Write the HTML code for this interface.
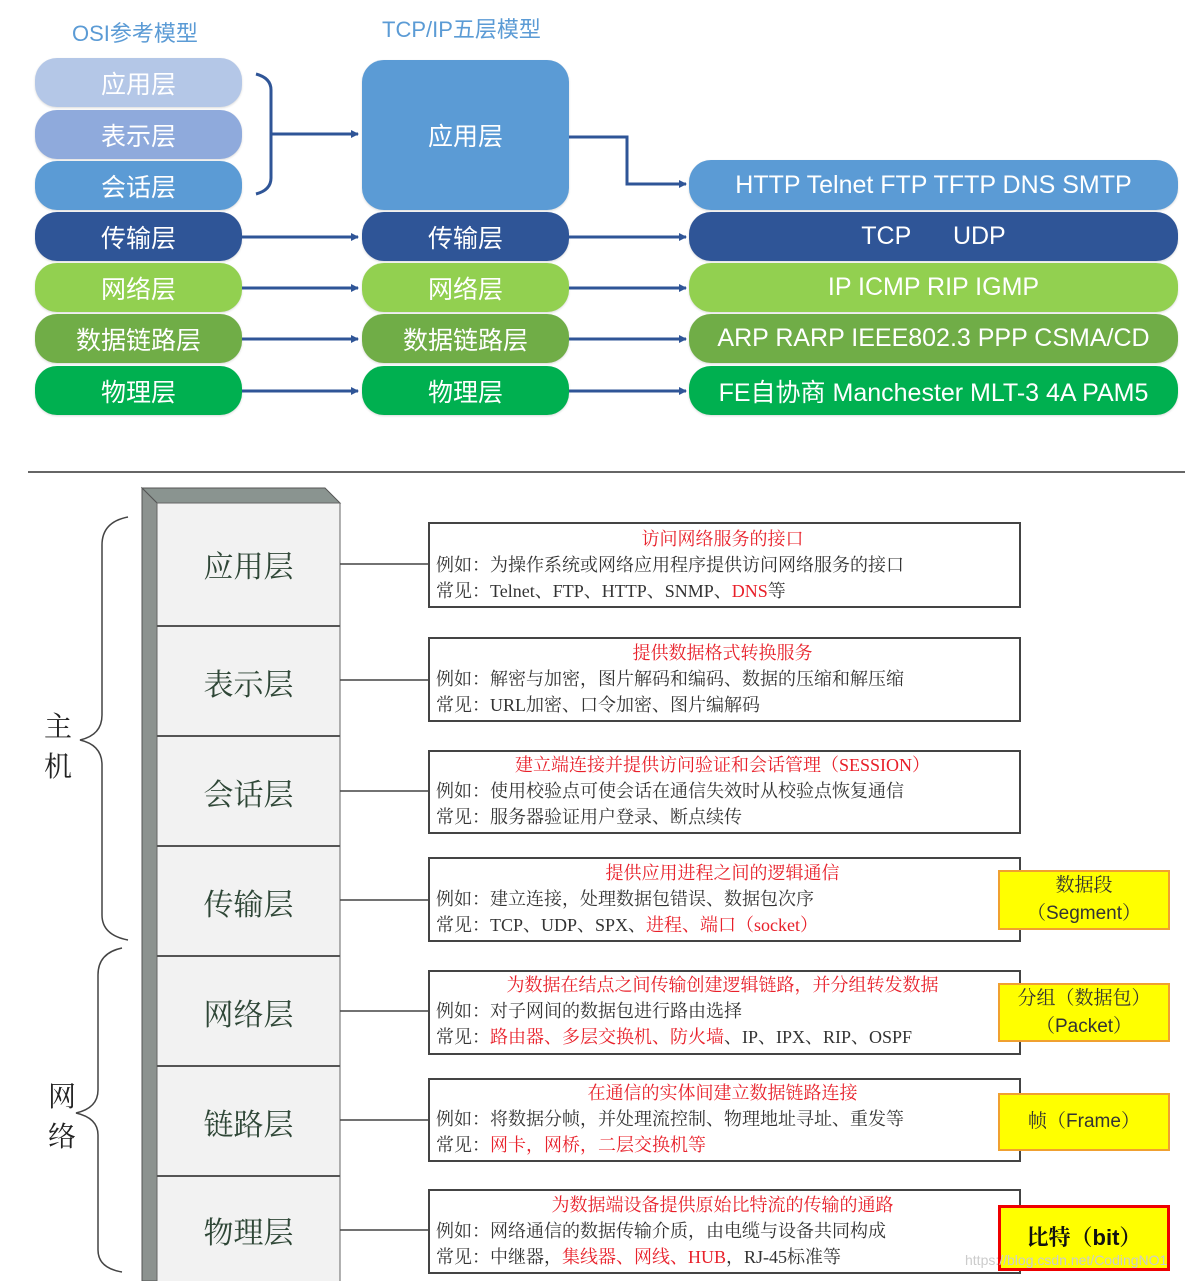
<!DOCTYPE html>
<html><head><meta charset="utf-8"><style>
body{margin:0;width:1201px;height:1281px;background:#fff;position:relative;overflow:hidden;font-family:"Liberation Sans","Noto Sans CJK SC",sans-serif}
.p{position:absolute;border-radius:22px;color:#fff;font-size:25px;display:flex;align-items:center;justify-content:center;box-shadow:0 1px 2px rgba(0,0,0,.15)}
.t{position:absolute;color:#5b9bd5;font-size:22px}
.lay{position:absolute;left:157px;width:183px;display:flex;align-items:center;justify-content:center;font-family:"Liberation Serif","Noto Serif CJK SC",serif;font-size:30px;color:#2e4636;border-top:2px solid #555}
.bx{position:absolute;left:428px;width:593px;border:2px solid #444;font-family:"Liberation Serif","Noto Serif CJK SC",serif;font-size:18px;color:#333;line-height:26px;box-sizing:border-box;padding-left:6px}
.bx .h{color:#e8202a;text-align:center;padding-right:10px}
.r{color:#e8202a}
.y{position:absolute;left:998px;width:172px;background:#ffff00;border:2px solid #f0a030;box-sizing:border-box;display:flex;flex-direction:column;align-items:center;justify-content:center;font-size:19px;color:#333;line-height:28px;font-family:"Liberation Sans","Noto Serif CJK SC",sans-serif}
</style></head><body>
<div class="t" style="left:72px;top:16px">OSI参考模型</div>
<div class="t" style="left:382px;top:12px">TCP/IP五层模型</div>

<div class="p" style="left:35px;top:58px;width:207px;height:49px;background:#b4c7e7">应用层</div>
<div class="p" style="left:35px;top:110px;width:207px;height:49px;background:#8faadc">表示层</div>
<div class="p" style="left:35px;top:161px;width:207px;height:49px;background:#5b9bd5">会话层</div>
<div class="p" style="left:35px;top:212px;width:207px;height:49px;background:#2f5597">传输层</div>
<div class="p" style="left:35px;top:263px;width:207px;height:49px;background:#92d050">网络层</div>
<div class="p" style="left:35px;top:314px;width:207px;height:49px;background:#70ad47">数据链路层</div>
<div class="p" style="left:35px;top:366px;width:207px;height:49px;background:#00b050">物理层</div>

<div class="p" style="left:362px;top:60px;width:207px;height:150px;background:#5b9bd5">应用层</div>
<div class="p" style="left:362px;top:212px;width:207px;height:49px;background:#2f5597">传输层</div>
<div class="p" style="left:362px;top:263px;width:207px;height:49px;background:#92d050">网络层</div>
<div class="p" style="left:362px;top:314px;width:207px;height:49px;background:#70ad47">数据链路层</div>
<div class="p" style="left:362px;top:366px;width:207px;height:49px;background:#00b050">物理层</div>

<div class="p" style="left:689px;top:160px;width:489px;height:50px;background:#5b9bd5">HTTP Telnet FTP TFTP DNS SMTP</div>
<div class="p" style="left:689px;top:212px;width:489px;height:49px;background:#2f5597">TCP&nbsp;&nbsp;&nbsp;&nbsp;&nbsp;&nbsp;UDP</div>
<div class="p" style="left:689px;top:263px;width:489px;height:49px;background:#92d050">IP ICMP RIP IGMP</div>
<div class="p" style="left:689px;top:314px;width:489px;height:49px;background:#70ad47">ARP RARP IEEE802.3 PPP CSMA/CD</div>
<div class="p" style="left:689px;top:366px;width:489px;height:49px;background:#00b050">FE自协商 Manchester MLT-3 4A PAM5</div>

<svg style="position:absolute;left:0;top:0" width="1201" height="1281">
<defs><marker id="a" markerWidth="8" markerHeight="8" refX="7" refY="4" orient="auto" markerUnits="userSpaceOnUse"><path d="M0,0L8,4L0,8z" fill="#2f5597"/></marker></defs>
<g stroke="#2f5597" stroke-width="3" fill="none">
<path d="M256,74 Q271,78 271,90 L271,178 Q271,190 256,194"/>
<path d="M271,134 L358,134" marker-end="url(#a)"/>
<path d="M569,137 L627,137 L627,184 L686,184" marker-end="url(#a)"/>
<path d="M242,237 L358,237" marker-end="url(#a)"/><path d="M569,237 L686,237" marker-end="url(#a)"/>
<path d="M242,288 L358,288" marker-end="url(#a)"/><path d="M569,288 L686,288" marker-end="url(#a)"/>
<path d="M242,339 L358,339" marker-end="url(#a)"/><path d="M569,339 L686,339" marker-end="url(#a)"/>
<path d="M242,391 L358,391" marker-end="url(#a)"/><path d="M569,391 L686,391" marker-end="url(#a)"/>
</g>
<line x1="28" y1="472" x2="1185" y2="472" stroke="#333" stroke-width="1.5"/>
<polygon points="142,488 325,488 340,503 157,503" fill="#8a9490" stroke="#555"/>
<polygon points="142,488 157,503 157,1281 142,1281" fill="#8c928f" stroke="#555"/>
<rect x="157" y="503" width="183" height="780" fill="#f2f2f2" stroke="#666"/>
<g stroke="#444" stroke-width="1.5" fill="none">
<path d="M128,517 Q102,522 102,545 L102,715 Q102,735 80,740 Q102,745 102,765 L102,915 Q102,935 128,940"/>
<path d="M122,948 Q98,953 98,975 L98,1090 Q98,1108 76,1113 Q98,1118 98,1135 L98,1250 Q98,1268 122,1272"/>
<path d="M340,564H428M340,680H428M340,791H428M340,900H428M340,1011H428M340,1120H428M340,1230H428"/>
</g>
</svg>
<div style="position:absolute;left:44px;top:708px;font-size:28px;line-height:40px;color:#222;font-family:'Liberation Serif','Noto Serif CJK SC',serif">主<br>机</div>
<div style="position:absolute;left:48px;top:1078px;font-size:28px;line-height:40px;color:#222;font-family:'Liberation Serif','Noto Serif CJK SC',serif">网<br>络</div>

<div class="lay" style="top:503px;height:122px;border-top:none">应用层</div>
<div class="lay" style="top:625px;height:110px">表示层</div>
<div class="lay" style="top:735px;height:110px">会话层</div>
<div class="lay" style="top:845px;height:110px">传输层</div>
<div class="lay" style="top:955px;height:110px">网络层</div>
<div class="lay" style="top:1065px;height:110px">链路层</div>
<div class="lay" style="top:1175px;height:106px">物理层</div>

<div class="bx" style="top:522px;height:86px;padding-top:2px"><div class="h">访问网络服务的接口</div>例如：为操作系统或网络应用程序提供访问网络服务的接口<br>常见：Telnet、FTP、HTTP、SNMP、<span class="r">DNS</span>等</div>
<div class="bx" style="top:637px;height:85px;padding-top:1px"><div class="h">提供数据格式转换服务</div>例如：解密与加密，图片解码和编码、数据的压缩和解压缩<br>常见：URL加密、口令加密、图片编解码</div>
<div class="bx" style="top:750px;height:84px;padding-top:0px"><div class="h">建立端连接并提供访问验证和会话管理（SESSION）</div>例如：使用校验点可使会话在通信失效时从校验点恢复通信<br>常见：服务器验证用户登录、断点续传</div>
<div class="bx" style="top:857px;height:85px;padding-top:1px"><div class="h">提供应用进程之间的逻辑通信</div>例如：建立连接，处理数据包错误、数据包次序<br>常见：TCP、UDP、SPX、<span class="r">进程、端口（socket）</span></div>
<div class="bx" style="top:970px;height:85px;padding-top:0px"><div class="h">为数据在结点之间传输创建逻辑链路，并分组转发数据</div>例如：对子网间的数据包进行路由选择<br>常见：<span class="r">路由器、多层交换机、防火墙</span>、IP、IPX、RIP、OSPF</div>
<div class="bx" style="top:1078px;height:84px;padding-top:0px"><div class="h">在通信的实体间建立数据链路连接</div>例如：将数据分帧，并处理流控制、物理地址寻址、重发等<br>常见：<span class="r">网卡，网桥，二层交换机等</span></div>
<div class="bx" style="top:1189px;height:85px;padding-top:1px"><div class="h">为数据端设备提供原始比特流的传输的通路</div>例如：网络通信的数据传输介质，由电缆与设备共同构成<br>常见：中继器，<span class="r">集线器、网线、HUB</span>，RJ-45标准等</div>

<div class="y" style="top:870px;height:60px"><div>数据段</div><div>（Segment）</div></div>
<div class="y" style="top:983px;height:59px"><div>分组（数据包）</div><div>（Packet）</div></div>
<div class="y" style="top:1093px;height:58px"><div>帧（Frame）</div></div>
<div class="y" style="top:1205px;height:66px;border:3px solid #e00;font-size:22px;font-weight:bold;color:#111"><div>比特（bit）</div></div>
<div style="position:absolute;left:965px;top:1252px;font-size:14px;color:#ccc">https://blog.csdn.net/CodingNO1</div>
</body></html>
